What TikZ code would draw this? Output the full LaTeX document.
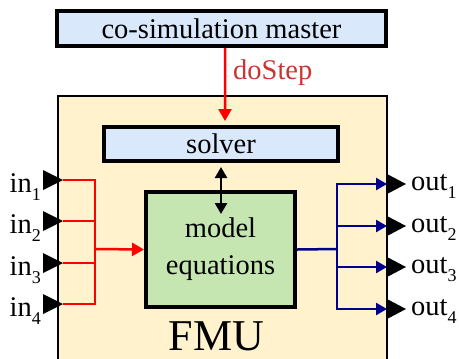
\documentclass[tikz,border=0pt]{standalone}
\usepackage{fontspec}
\IfFontExistsTF{LiberationSerif-Regular.ttf}{%
  \setmainfont{LiberationSerif}[Extension=.ttf, UprightFont=*-Regular, BoldFont=*-Bold, ItalicFont=*-Italic, BoldItalicFont=*-BoldItalic]}{%
  \setmainfont{Liberation Serif}}
\usetikzlibrary{arrows.meta}
\definecolor{mblue}{HTML}{DAE8FC}
\definecolor{fmuyellow}{HTML}{FFF2CC}
\definecolor{mgreen}{HTML}{C6E6B1}
\definecolor{navyline}{HTML}{00008C}
\definecolor{steptext}{HTML}{CC3333}
\newcommand\bigtxt{\rmfamily\fontsize{28.5bp}{37bp}\selectfont}
\newcommand\portsub[1]{\raisebox{-0.3em}{\fontsize{18bp}{18bp}\selectfont #1}}
\begin{document}
\begin{tikzpicture}[x=1bp,y=-1bp,
  box/.style={draw=black, line width=4bp, inner sep=0pt, font=\bigtxt, align=center},
  redline/.style={draw=red, line width=2.5bp},
  redarrow/.style={redline, -{Triangle[length=12bp,width=13bp]}},
  navyarrowline/.style={draw=navyline, line width=2.5bp},
  navyarrow/.style={navyarrowline, -{Triangle[length=11bp,width=12bp]}},
  dblarrow/.style={draw=black, line width=2.5bp, {Triangle[length=11bp,width=12bp]}-{Triangle[length=11bp,width=12bp]}},
  portlabel/.style={font=\bigtxt, inner sep=0pt},
  port/.style={fill=black}]
\useasboundingbox (0,0) rectangle (459,358);
\begin{scope}
\clip (0,0) rectangle (459,358);
\filldraw[fill=fmuyellow, draw=black, line width=2bp] (58,95.5) rectangle (386.5,380);
\end{scope}
% boxes
\node[box, fill=mblue, minimum width=329bp, minimum height=35bp] (master) at (221.5,28.5) {co-simulation master};
\node[box, fill=mblue, minimum width=234bp, minimum height=34bp] (solver) at (221,144) {solver};
\node[box, fill=mgreen, minimum width=149bp, minimum height=115bp] (model) at (220.5,249.5) {model\\equations};
\node[font=\rmfamily\fontsize{44bp}{44bp}\selectfont, inner sep=0pt, anchor=base] (fmu) at (216.5,350) {FMU};
% doStep
\draw[redarrow, shorten >=4bp] ([xshift=3.5bp]master.south) -- ([xshift=4bp]solver.north);
\node[font=\bigtxt, text=steptext, inner sep=0pt, anchor=base west] (dostep) at (233,79) {doStep};
% solver <-> model
\coordinate (mtop) at (221,214);
\draw[dblarrow, shorten <=4bp] (solver.south) -- (mtop);
% inputs
\coordinate (in1) at (63,180);
\coordinate (in2) at (63,221);
\coordinate (in3) at (63,263);
\coordinate (in4) at (63,304);
\coordinate (ibus) at (95,249);
\foreach \i in {1,...,4}{
  \draw[redline] (in\i) -| (ibus);
}
\draw[redarrow] (ibus) -- (model.west);
\foreach \i in {1,...,4}{
  \fill[port] (in\i) -- ++(-20,-10) -- ++(0,20) -- cycle;
}
\node[portlabel, anchor=base east] (lin1) at (41,192) {in\portsub{1}};
\node[portlabel, anchor=base east] (lin2) at (41,233) {in\portsub{2}};
\node[portlabel, anchor=base east] (lin3) at (41,275) {in\portsub{3}};
\node[portlabel, anchor=base east] (lin4) at (41,316) {in\portsub{4}};
% outputs
\coordinate (out1) at (387,184);
\coordinate (out2) at (387,226);
\coordinate (out3) at (387,267);
\coordinate (out4) at (387,309);
\coordinate (obus) at (337,249);
\draw[navyarrowline] (model.east) -- (obus);
\foreach \i in {1,...,4}{
  \draw[navyarrow] (obus) |- (out\i);
  \fill[port] (out\i) ++(0,-10) -- ++(19,10) -- ++(-19,10) -- cycle;
}
\node[portlabel, anchor=base west] (lout1) at (411,190) {out\portsub{1}};
\node[portlabel, anchor=base west] (lout2) at (411,232) {out\portsub{2}};
\node[portlabel, anchor=base west] (lout3) at (411,273) {out\portsub{3}};
\node[portlabel, anchor=base west] (lout4) at (411,315) {out\portsub{4}};
\end{tikzpicture}
\end{document}
